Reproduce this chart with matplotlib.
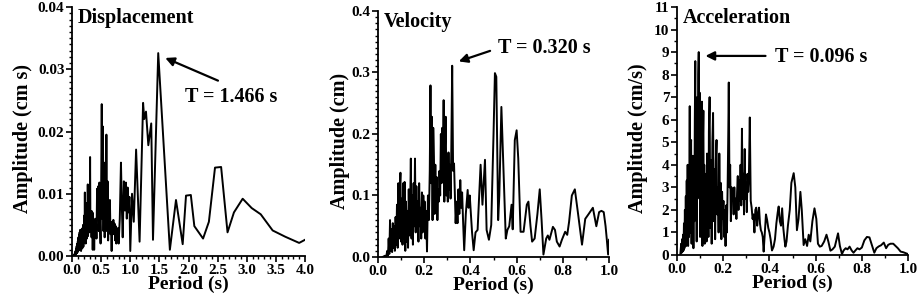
import matplotlib
matplotlib.use("Agg")
import matplotlib.pyplot as plt
from matplotlib.ticker import MultipleLocator, FormatStrFormatter

plt.rcParams["font.family"] = ["Liberation Serif", "DejaVu Serif"]
plt.rcParams["font.weight"] = "bold"
plt.rcParams["axes.labelweight"] = "bold"

# displacement spectrum (period s, amplitude cm s)
disp_period = [0.02, 0.04, 0.05, 0.06, 0.065, 0.07, 0.075, 0.08, 0.085, 0.09, 0.095, 0.10, 0.105, 0.11,
               0.115, 0.12, 0.125, 0.13, 0.135, 0.14, 0.145, 0.15, 0.155, 0.16, 0.165, 0.17, 0.175, 0.18,
               0.185, 0.19, 0.195, 0.20, 0.205, 0.21, 0.215, 0.22, 0.225, 0.23, 0.235, 0.24, 0.245, 0.25,
               0.255, 0.26, 0.265, 0.27, 0.275, 0.28, 0.285, 0.29, 0.295, 0.30, 0.305, 0.31, 0.315, 0.32,
               0.325, 0.33, 0.335, 0.34, 0.345, 0.35, 0.355, 0.36, 0.365, 0.37, 0.38, 0.39, 0.40, 0.41,
               0.42, 0.43, 0.44, 0.45, 0.46, 0.47, 0.48, 0.49, 0.50, 0.51, 0.52, 0.53, 0.54, 0.55, 0.56,
               0.57, 0.58, 0.59, 0.60, 0.61, 0.62, 0.63, 0.64, 0.65, 0.66, 0.67, 0.68, 0.69, 0.70, 0.71,
               0.72, 0.73, 0.74, 0.75, 0.76, 0.77, 0.78, 0.79, 0.80, 0.82, 0.84, 0.855, 0.87, 0.89, 0.91,
               0.925, 0.94, 0.955, 0.97, 0.985, 1.00, 1.03, 1.06, 1.10, 1.16, 1.22, 1.24, 1.27, 1.31,
               1.36, 1.39, 1.48, 1.68, 1.785, 1.90, 1.957, 2.04, 2.10, 2.25, 2.35, 2.455, 2.56, 2.67,
               2.78, 2.93, 3.085, 3.24, 3.445, 3.66, 3.90, 4.00]
disp_amp = [0.0000, 0.0003, 0.0001, 0.0008, 0.0002, 0.0012, 0.0004, 0.0016, 0.0005, 0.0020, 0.0006,
            0.0024, 0.0008, 0.0030, 0.0009, 0.0034, 0.0012, 0.0038, 0.0010, 0.0042, 0.0015, 0.0030,
            0.0008, 0.0040, 0.0018, 0.0044, 0.0012, 0.0038, 0.0020, 0.0050, 0.0015, 0.0046, 0.0025,
            0.0065, 0.0022, 0.0102, 0.0030, 0.0072, 0.0020, 0.0058, 0.0035, 0.0085, 0.0028, 0.0062,
            0.0040, 0.0115, 0.0032, 0.0070, 0.0045, 0.0112, 0.0038, 0.0065, 0.0050, 0.0159, 0.0060,
            0.0072, 0.0045, 0.0068, 0.0030, 0.0072, 0.0055, 0.0070, 0.0010, 0.0068, 0.0040, 0.0060,
            0.0010, 0.0055, 0.0035, 0.0060, 0.0028, 0.0108, 0.0065, 0.0112, 0.0040, 0.0118, 0.0055,
            0.0020, 0.0110, 0.0244, 0.0060, 0.0208, 0.0040, 0.0150, 0.0030, 0.0090, 0.0045, 0.0195,
            0.0040, 0.0120, 0.0025, 0.0070, 0.0040, 0.0090, 0.0035, 0.0050, 0.0008, 0.0055, 0.0040,
            0.0058, 0.0035, 0.0052, 0.0025, 0.0048, 0.0020, 0.0040, 0.0030, 0.0045, 0.0020, 0.0060,
            0.0150, 0.0080, 0.0030, 0.0120, 0.0073, 0.0118, 0.0060, 0.0110, 0.0070, 0.0095, 0.0008,
            0.0100, 0.0055, 0.0171, 0.0023, 0.0246, 0.0220, 0.0232, 0.0178, 0.0213, 0.0026, 0.0326,
            0.0010, 0.0090, 0.0019, 0.0097, 0.0098, 0.0048, 0.0028, 0.0055, 0.0142, 0.0143, 0.0038,
            0.0070, 0.0092, 0.0077, 0.0067, 0.0041, 0.0031, 0.0021, 0.0026]

# velocity spectrum (period s, amplitude cm)
vel_period = [0.020, 0.030, 0.035, 0.040, 0.043, 0.046, 0.049, 0.052, 0.055, 0.058, 0.061, 0.064, 0.067,
              0.070, 0.073, 0.076, 0.079, 0.082, 0.085, 0.088, 0.091, 0.094, 0.097, 0.100, 0.103, 0.106,
              0.109, 0.112, 0.115, 0.118, 0.121, 0.124, 0.127, 0.130, 0.133, 0.136, 0.139, 0.142, 0.145,
              0.148, 0.151, 0.154, 0.157, 0.160, 0.163, 0.166, 0.169, 0.172, 0.175, 0.178, 0.181, 0.184,
              0.187, 0.190, 0.193, 0.196, 0.199, 0.202, 0.205, 0.208, 0.212, 0.216, 0.220, 0.224, 0.227,
              0.230, 0.233, 0.236, 0.239, 0.242, 0.245, 0.248, 0.251, 0.254, 0.257, 0.260, 0.263, 0.266,
              0.269, 0.272, 0.275, 0.278, 0.281, 0.284, 0.287, 0.290, 0.293, 0.296, 0.299, 0.302, 0.305,
              0.308, 0.311, 0.314, 0.317, 0.321, 0.325, 0.329, 0.333, 0.336, 0.340, 0.344, 0.348, 0.352,
              0.356, 0.360, 0.364, 0.368, 0.373, 0.380, 0.388, 0.392, 0.397, 0.402, 0.407, 0.414, 0.422,
              0.431, 0.444, 0.452, 0.463, 0.470, 0.480, 0.490, 0.500, 0.506, 0.512, 0.520, 0.525, 0.534,
              0.543, 0.553, 0.560, 0.568, 0.578, 0.583, 0.592, 0.600, 0.607, 0.617, 0.630, 0.644, 0.651,
              0.660, 0.667, 0.678, 0.690, 0.700, 0.708, 0.716, 0.728, 0.735, 0.742, 0.757, 0.766, 0.774,
              0.786, 0.796, 0.810, 0.819, 0.827, 0.839, 0.852, 0.866, 0.883, 0.897, 0.912, 0.930, 0.945,
              0.957, 0.967, 0.977, 0.985, 0.990, 0.996, 1.000]
vel_amp = [0.000, 0.002, 0.000, 0.010, 0.002, 0.030, 0.005, 0.060, 0.010, 0.045, 0.008, 0.055, 0.015,
           0.050, 0.010, 0.065, 0.020, 0.085, 0.015, 0.120, 0.030, 0.110, 0.137, 0.025, 0.095, 0.020,
           0.120, 0.030, 0.122, 0.010, 0.090, 0.025, 0.075, 0.015, 0.110, 0.035, 0.080, 0.160, 0.030,
           0.100, 0.020, 0.120, 0.050, 0.160, 0.040, 0.115, 0.060, 0.090, 0.025, 0.120, 0.050, 0.080,
           0.030, 0.105, 0.040, 0.100, 0.060, 0.090, 0.030, 0.075, 0.009, 0.100, 0.060, 0.140, 0.279,
           0.120, 0.228, 0.060, 0.210, 0.163, 0.070, 0.150, 0.080, 0.130, 0.060, 0.110, 0.090, 0.140,
           0.100, 0.200, 0.120, 0.210, 0.147, 0.255, 0.090, 0.180, 0.228, 0.100, 0.160, 0.090, 0.170,
           0.110, 0.150, 0.095, 0.168, 0.311, 0.140, 0.152, 0.100, 0.055, 0.090, 0.055, 0.110, 0.070,
           0.125, 0.080, 0.105, 0.060, 0.011, 0.070, 0.109, 0.080, 0.100, 0.070, 0.040, 0.011, 0.040,
           0.044, 0.150, 0.085, 0.158, 0.044, 0.028, 0.052, 0.200, 0.299, 0.293, 0.060, 0.100, 0.244,
           0.140, 0.030, 0.044, 0.050, 0.085, 0.045, 0.190, 0.206, 0.160, 0.041, 0.041, 0.085, 0.090,
           0.050, 0.025, 0.030, 0.070, 0.110, 0.060, 0.004, 0.030, 0.035, 0.028, 0.049, 0.044, 0.025,
           0.017, 0.028, 0.041, 0.036, 0.057, 0.100, 0.110, 0.070, 0.020, 0.062, 0.070, 0.080, 0.050,
           0.073, 0.075, 0.073, 0.050, 0.030, 0.004, 0.028]

# acceleration spectrum (period s, amplitude cm/s)
acc_period = [0.014, 0.018, 0.020, 0.022, 0.024, 0.026, 0.028, 0.030, 0.032, 0.034, 0.036, 0.038, 0.040,
              0.042, 0.044, 0.046, 0.048, 0.050, 0.052, 0.054, 0.055, 0.057, 0.059, 0.061, 0.063, 0.065,
              0.067, 0.069, 0.071, 0.073, 0.075, 0.077, 0.079, 0.081, 0.083, 0.085, 0.087, 0.089, 0.092,
              0.094, 0.096, 0.098, 0.100, 0.102, 0.104, 0.106, 0.108, 0.110, 0.112, 0.114, 0.116, 0.118,
              0.120, 0.122, 0.124, 0.126, 0.128, 0.130, 0.132, 0.134, 0.136, 0.138, 0.141, 0.144, 0.147,
              0.150, 0.153, 0.156, 0.159, 0.162, 0.165, 0.168, 0.171, 0.174, 0.177, 0.180, 0.183, 0.186,
              0.189, 0.192, 0.195, 0.198, 0.201, 0.204, 0.207, 0.210, 0.213, 0.216, 0.219, 0.222, 0.224,
              0.227, 0.230, 0.233, 0.236, 0.239, 0.242, 0.245, 0.248, 0.251, 0.254, 0.257, 0.260, 0.263,
              0.266, 0.269, 0.272, 0.275, 0.278, 0.281, 0.284, 0.287, 0.290, 0.293, 0.296, 0.299, 0.302,
              0.305, 0.308, 0.311, 0.315, 0.319, 0.323, 0.327, 0.331, 0.335, 0.339, 0.343, 0.347, 0.351,
              0.355, 0.359, 0.363, 0.367, 0.371, 0.375, 0.380, 0.385, 0.390, 0.395, 0.400, 0.405, 0.411,
              0.418, 0.424, 0.430, 0.436, 0.440, 0.445, 0.450, 0.455, 0.460, 0.465, 0.469, 0.474, 0.480,
              0.488, 0.495, 0.505, 0.512, 0.519, 0.526, 0.534, 0.540, 0.548, 0.555, 0.563, 0.570, 0.577,
              0.586, 0.595, 0.603, 0.610, 0.618, 0.626, 0.637, 0.647, 0.655, 0.664, 0.673, 0.683, 0.697,
              0.705, 0.714, 0.721, 0.730, 0.738, 0.747, 0.756, 0.764, 0.772, 0.781, 0.790, 0.800, 0.811,
              0.822, 0.833, 0.843, 0.854, 0.863, 0.873, 0.883, 0.895, 0.905, 0.914, 0.924, 0.936, 0.946,
              0.956, 0.968, 0.980, 1.000]
acc_amp = [0.00, 0.50, 0.10, 0.70, 0.15, 0.90, 0.20, 1.40, 0.30, 2.00, 0.50, 2.60, 0.40, 3.30, 0.60,
           4.00, 0.40, 3.00, 0.80, 5.20, 6.60, 1.00, 4.50, 5.10, 0.50, 3.80, 1.20, 4.40, 0.30, 4.20,
           1.50, 6.00, 8.60, 2.00, 5.50, 0.60, 7.00, 2.50, 8.00, 9.00, 3.00, 7.20, 0.80, 5.50, 6.70,
           1.50, 6.80, 0.40, 5.00, 6.40, 1.20, 4.00, 0.50, 3.60, 1.00, 3.20, 0.60, 4.50, 1.50, 3.00,
           0.80, 5.50, 7.00, 1.20, 4.20, 0.50, 5.00, 6.30, 1.50, 3.80, 0.70, 4.20, 5.10, 1.80, 3.00,
           1.00, 4.50, 2.00, 3.20, 0.70, 2.80, 1.60, 2.40, 0.80, 2.00, 0.40, 2.20, 1.00, 3.00, 5.50,
           7.65, 3.00, 4.00, 1.50, 3.00, 2.40, 2.80, 1.80, 3.00, 2.00, 2.50, 1.60, 2.80, 3.50, 2.00,
           3.30, 2.40, 4.00, 2.20, 5.60, 2.50, 3.60, 1.80, 4.70, 2.50, 3.20, 1.90, 3.60, 2.80, 3.40,
           6.10, 2.40, 2.10, 1.60, 1.80, 1.00, 2.00, 2.10, 1.30, 1.80, 2.10, 1.40, 1.10, 1.00, 0.80,
           0.15, 1.00, 1.80, 1.55, 1.20, 1.00, 0.70, 0.20, 0.37, 0.70, 1.40, 1.90, 2.15, 1.50, 1.30,
           2.07, 1.20, 0.70, 0.37, 0.60, 1.30, 2.00, 3.20, 3.63, 3.00, 1.10, 1.60, 2.80, 2.00, 0.44,
           0.70, 0.40, 0.90, 0.60, 1.50, 2.07, 1.60, 0.50, 0.37, 0.40, 0.60, 0.90, 0.60, 0.19, 0.25,
           0.37, 0.96, 0.40, 0.04, 0.20, 0.30, 0.25, 0.37, 0.20, 0.10, 0.20, 0.30, 0.25, 0.33, 0.65,
           0.80, 0.78, 0.45, 0.10, 0.30, 0.38, 0.43, 0.55, 0.30, 0.45, 0.50, 0.50, 0.40, 0.30, 0.15,
           0.12, 0.04]

fig = plt.figure(figsize=(9.2, 2.94), dpi=100)

panels = [
    # rect, x, y, title, ylabel, xmax, xmajor, xminor, ymax, ymajor, yminor, yfmt, ylabel x, annotation
    ([0.0783, 0.1293, 0.2532, 0.8467], disp_period, disp_amp, "Displacement", "Amplitude (cm s)",
     4.0, 0.5, 0.1, 0.04, 0.01, 0.001, "%.2f", -0.167, "T = 1.466 s", (1.557, 0.032), (2.55, 0.028), (2.73, 0.0255)),
    ([0.4109, 0.1259, 0.2511, 0.8367], vel_period, vel_amp, "Velocity", "Amplitude (cm)",
     1.0, 0.2, 0.1, 0.4, 0.1, 0.01, "%.1f", -0.121, "T = 0.320 s", (0.338, 0.3166), (0.4965, 0.3366), (0.719, 0.34)),
    ([0.7359, 0.1327, 0.2511, 0.8435], acc_period, acc_amp, "Acceleration", "Amplitude (cm/s)",
     1.0, 0.2, 0.1, 11, 1, 0.5, "%d", -0.126, "T = 0.096 s", (0.111, 8.83), (0.395, 8.83), (0.626, 8.8)),
]

for (rect, x, y, title, ylabel, xmax, xmaj, xmin, ymax, ymaj, ymin, yfmt, ylx,
     note, tip, tail, txt) in panels:
    ax = fig.add_axes(rect)
    ax.plot(x, y, color="black", lw=1.4)
    ax.set_xlim(0, xmax)
    ax.set_ylim(0, ymax)
    ax.xaxis.set_major_locator(MultipleLocator(xmaj))
    ax.xaxis.set_minor_locator(MultipleLocator(xmin))
    ax.yaxis.set_major_locator(MultipleLocator(ymaj))
    ax.yaxis.set_minor_locator(MultipleLocator(ymin))
    ax.xaxis.set_major_formatter(FormatStrFormatter("%.1f"))
    ax.yaxis.set_major_formatter(FormatStrFormatter(yfmt))
    for s in ["top", "right"]:
        ax.spines[s].set_visible(False)
    for s in ["left", "bottom"]:
        ax.spines[s].set_linewidth(1.3)
    ax.tick_params(which="major", direction="out", length=4, width=1.2, labelsize=11, pad=1.5)
    ax.tick_params(which="minor", direction="out", length=2, width=1.0)
    ax.set_xlabel("Period (s)", fontsize=14, labelpad=-1)
    ax.set_ylabel(ylabel, fontsize=14.5)
    ax.yaxis.set_label_coords(ylx, 0.47)
    ax.text(0.025, 0.995, title, transform=ax.transAxes, fontsize=14.5, fontweight="bold",
            ha="left", va="top")
    ax.annotate("", xy=tip, xytext=tail,
                arrowprops=dict(arrowstyle="-|>", color="black", lw=1.6, mutation_scale=13))
    ax.text(txt[0], txt[1], note, fontsize=14.5, fontweight="bold", ha="center", va="center")

fig.savefig("out.png", dpi=100)
